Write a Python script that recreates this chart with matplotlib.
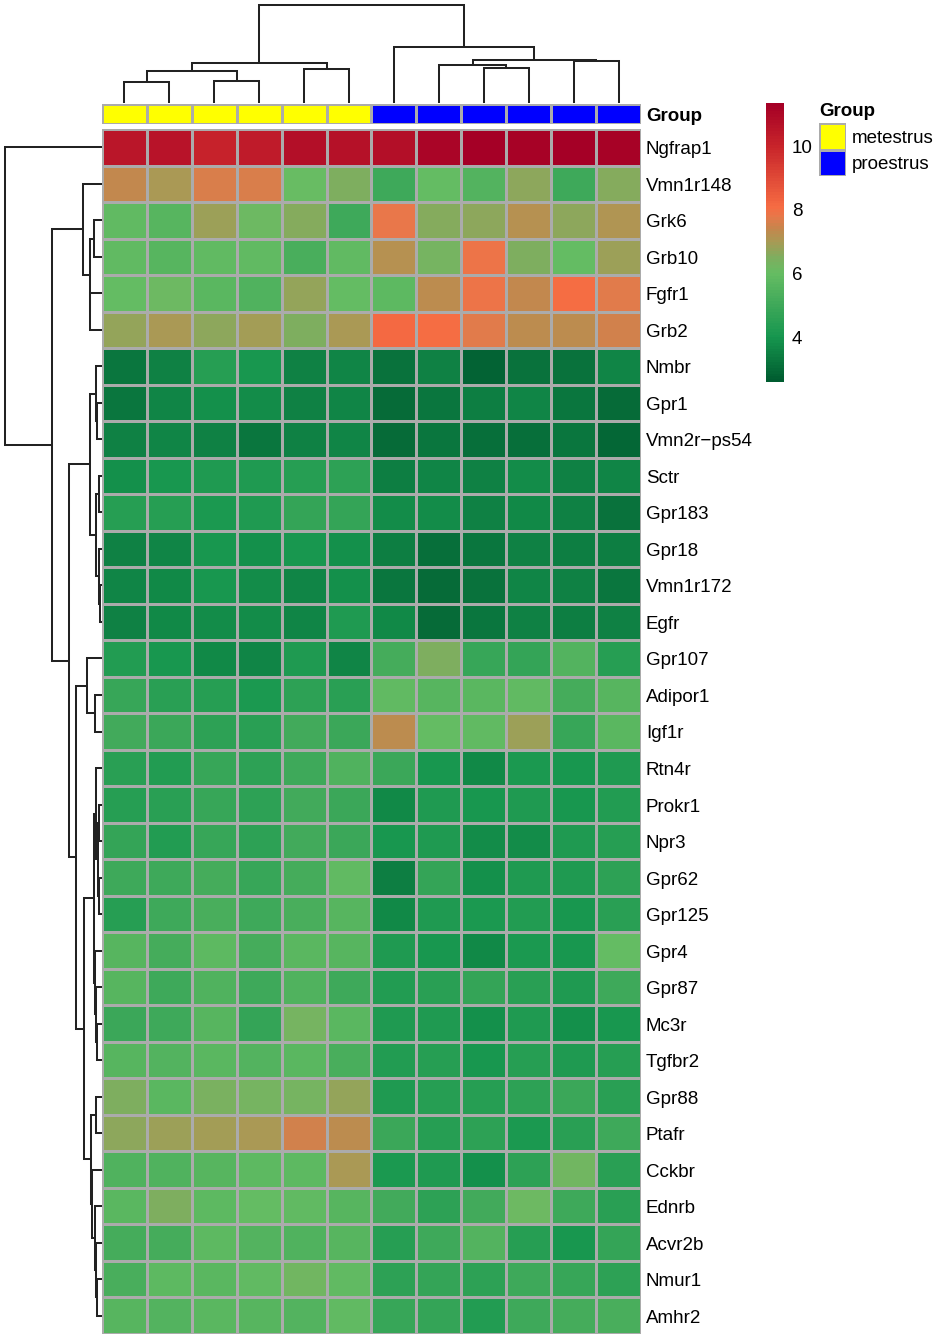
import matplotlib
matplotlib.use('Agg')
import matplotlib.pyplot as plt
import numpy as np
from matplotlib.colors import LinearSegmentedColormap, ListedColormap

plt.rcParams['font.family'] = ['Liberation Sans', 'DejaVu Sans']

genes = ['Ngfrap1', 'Vmn1r148', 'Grk6', 'Grb10', 'Fgfr1', 'Grb2', 'Nmbr', 'Gpr1', 'Vmn2r\u2212ps54',
         'Sctr', 'Gpr183', 'Gpr18', 'Vmn1r172', 'Egfr', 'Gpr107', 'Adipor1', 'Igf1r', 'Rtn4r', 'Prokr1',
         'Npr3', 'Gpr62', 'Gpr125', 'Gpr4', 'Gpr87', 'Mc3r', 'Tgfbr2', 'Gpr88', 'Ptafr', 'Cckbr', 'Ednrb',
         'Acvr2b', 'Nmur1', 'Amhr2']

values = [
    [10.5, 10.6, 10.1, 10.3, 10.8, 10.7, 10.8, 11.1, 11.3, 11.2, 11.3, 11.2],
    [7.4, 7.05, 7.65, 7.65, 6.05, 6.5, 5.0, 6.0, 5.5, 6.65, 5.0, 6.55],
    [5.9, 5.6, 6.85, 6.1, 6.55, 5.0, 7.8, 6.55, 6.65, 7.15, 6.7, 7.1],
    [5.9, 5.6, 5.9, 5.9, 5.3, 5.9, 7.2, 6.3, 7.85, 6.5, 6.0, 6.85],
    [6.0, 6.1, 5.7, 5.4, 6.8, 5.95, 5.8, 7.3, 7.85, 7.4, 8.1, 7.7],
    [6.8, 7.0, 6.65, 6.95, 6.45, 7.0, 8.15, 8.1, 7.75, 7.3, 7.3, 7.5],
    [3.3, 3.5, 4.4, 4.0, 3.5, 3.6, 3.2, 3.5, 2.8, 3.2, 3.2, 3.6],
    [3.3, 3.6, 3.9, 3.8, 3.5, 3.6, 3.0, 3.3, 3.4, 3.6, 3.3, 3.0],
    [3.5, 3.6, 3.5, 3.3, 3.5, 3.6, 3.0, 3.3, 3.1, 3.1, 3.3, 2.9],
    [3.9, 4.0, 4.2, 4.2, 4.4, 4.6, 3.4, 3.6, 3.5, 3.8, 3.5, 3.6],
    [4.4, 4.4, 4.1, 4.2, 4.7, 4.7, 3.8, 3.8, 3.5, 3.7, 3.5, 3.2],
    [3.5, 3.6, 4.0, 3.9, 4.0, 3.9, 3.4, 3.1, 3.3, 3.5, 3.4, 3.4],
    [3.6, 3.7, 4.0, 3.8, 3.6, 3.9, 3.3, 3.0, 3.2, 3.6, 3.5, 3.3],
    [3.5, 3.7, 3.8, 3.8, 3.6, 4.2, 3.7, 3.0, 3.3, 3.5, 3.4, 3.5],
    [4.3, 4.0, 3.7, 3.6, 4.2, 3.6, 5.2, 6.5, 4.8, 4.7, 5.5, 4.4],
    [4.8, 4.5, 4.4, 4.1, 4.6, 4.5, 5.9, 5.6, 5.7, 5.9, 5.2, 5.6],
    [5.1, 4.9, 4.6, 4.5, 5.1, 4.9, 7.25, 6.0, 5.9, 6.85, 4.8, 5.7],
    [4.5, 4.3, 4.8, 4.6, 5.0, 5.4, 4.9, 4.0, 3.7, 4.1, 4.0, 4.2],
    [4.4, 4.5, 4.8, 4.6, 5.1, 4.9, 3.7, 4.2, 4.0, 4.2, 4.0, 4.3],
    [4.7, 4.3, 4.8, 4.6, 5.1, 4.9, 4.0, 4.2, 3.8, 3.8, 4.2, 4.4],
    [5.0, 5.0, 5.2, 4.8, 5.2, 5.9, 3.4, 4.7, 3.9, 4.2, 4.2, 4.6],
    [4.4, 5.0, 5.3, 5.0, 5.3, 5.6, 3.7, 4.2, 4.1, 4.3, 4.0, 4.5],
    [5.6, 5.2, 5.8, 5.2, 5.7, 5.6, 4.2, 4.0, 3.7, 4.1, 4.0, 6.0],
    [5.6, 5.0, 5.4, 5.0, 5.4, 5.0, 4.3, 4.5, 4.7, 4.5, 4.2, 5.0],
    [4.9, 5.0, 5.6, 4.7, 6.3, 5.7, 4.2, 4.2, 3.9, 4.2, 3.9, 4.0],
    [5.6, 5.5, 5.7, 5.5, 5.7, 5.3, 4.3, 4.4, 4.0, 4.4, 4.2, 4.4],
    [6.5, 5.7, 6.4, 6.3, 6.3, 6.75, 4.2, 4.4, 4.4, 4.6, 4.9, 4.5],
    [6.65, 6.85, 6.95, 7.0, 7.5, 7.25, 4.9, 4.4, 4.6, 4.1, 4.5, 5.0],
    [5.4, 5.4, 5.6, 5.8, 5.8, 7.05, 4.1, 4.2, 3.9, 4.6, 6.2, 4.5],
    [5.7, 6.5, 5.8, 6.0, 5.9, 5.6, 5.1, 4.6, 5.1, 6.1, 5.0, 4.5],
    [5.2, 5.2, 5.8, 5.5, 5.4, 5.6, 4.4, 5.0, 5.5, 4.4, 4.0, 4.7],
    [5.3, 5.8, 5.7, 5.9, 6.2, 5.9, 4.6, 4.7, 4.6, 5.0, 4.8, 4.6],
    [5.6, 5.5, 5.7, 5.6, 5.5, 5.9, 4.8, 4.7, 4.3, 5.0, 5.2, 5.3],
]

groups = [0, 0, 0, 0, 0, 0, 1, 1, 1, 1, 1, 1]
group_names = ['metestrus', 'proestrus']
group_colors = ['#FFFF00', '#0000FF']
bar_ticks = [4, 6, 8, 10]

# trees: (left, right, height), leaves are positions in the drawn order
col_tree = (((((0, 1, 21), (2, 3, 22), 32), (4, 5, 34), 40)),
            (6, ((7, (8, 9, 35), 38), (10, 11, 42), 43.5), 56), 98)
row_tree = (0,
            ((1, ((2, 3, 8), (4, 5, 12), 12), 19),
             (((6, (7, 8, 4.7), 5.7), ((9, 10, 3), (11, (12, 13, 2), 3), 6.3), 11.5),
              ((14, (15, 16, 7), 15),
               (((17, ((18, 19, 2.7), (20, 21, 3), 4.3), 6.3), (22, (23, (24, 25, 4.7), 6), 7), 8.3),
                ((26, 27, 6.3), (28, (29, (30, (31, 32, 4.7), 6), 7), 10.3), 11.3), 18), 26), 33.5), 50), 97)

val_min, val_max = 2.6, 11.35
color_stops = [(2.6, '#005c30'), (4.0, '#17974f'), (5.0, '#3fa95a'), (6.0, '#66bd63'), (6.5, '#7fae5f'),
               (7.0, '#a99a55'), (7.4, '#c4874d'), (7.8, '#e8784a'), (8.1, '#f66c43'), (10.0, '#c9252b'),
               (11.35, '#a50026')]
cmap = LinearSegmentedColormap.from_list(
    'expr', [((v - val_min) / (val_max - val_min), c) for v, c in color_stops], N=100)

W, H = 937, 1339
fig = plt.figure(figsize=(W / 100, H / 100), dpi=100)


def px_axes(x0, y0, x1, y1):
    ax = fig.add_axes([x0 / W, 1 - y1 / H, (x1 - x0) / W, (y1 - y0) / H])
    ax.set_axis_off()
    return ax


def label(ax, x, y, s, dx, dy, **kw):
    # offsets in image pixels, down is positive
    ax.annotate(s, (x, y), xytext=(dx * 0.72, -dy * 0.72), textcoords='offset points', va='center', ha='left',
                fontsize=13.5, color='black', annotation_clip=False, **kw)


def draw_tree(ax, node, horizontal):
    # returns (centre, height) of the node
    if not isinstance(node, tuple):
        return node + 0.5, 0
    c1, h1 = draw_tree(ax, node[0], horizontal)
    c2, h2 = draw_tree(ax, node[1], horizontal)
    h = node[2]
    xs, ys = [c1, c1, c2, c2], [h1, h, h, h2]
    if horizontal:
        xs, ys = ys, xs
    ax.plot(xs, ys, color='#222222', lw=1.45, solid_joinstyle='miter', solid_capstyle='butt', clip_on=False)
    return (c1 + c2) / 2, h


grid = '#ABABAB'
left, right, top, bottom = 102, 641, 129, 1334
n_rows, n_cols = len(genes), len(groups)

ax = px_axes(left, top, right, bottom)
ax.pcolormesh(np.array(values), cmap=cmap, vmin=val_min, vmax=val_max, edgecolors=grid, linewidth=0.75)
ax.set_xlim(0, n_cols)
ax.set_ylim(n_rows, 0)
for i, g in enumerate(genes):
    label(ax, n_cols, i + 0.5, g, 5, 2.5)

ax_ann = px_axes(left, 104, right, 124)
ax_ann.pcolormesh(np.array([groups]), cmap=ListedColormap(group_colors), vmin=0, vmax=1, edgecolors=grid, linewidth=0.75)
ax_ann.set_xlim(0, n_cols)
ax_ann.set_ylim(1, 0)
label(ax_ann, n_cols, 0.5, 'Group', 5, 2.5, fontweight='bold')

ax_top = px_axes(left, 3, right, 103)
ax_top.set_xlim(0, n_cols)
ax_top.set_ylim(0, 100)
draw_tree(ax_top, col_tree, False)

ax_left = px_axes(0, top, left, bottom)
ax_left.set_xlim(102, 0)
ax_left.set_ylim(n_rows, 0)
draw_tree(ax_left, row_tree, True)

# colour bar
ax_bar = px_axes(766, 103, 784, 382)
ax_bar.imshow(np.linspace(val_max, val_min, 100).reshape(-1, 1), cmap=cmap, vmin=val_min, vmax=val_max,
              aspect='auto', extent=[0, 1, val_min, val_max], interpolation='nearest')
for t in bar_ticks:
    label(ax_bar, 1.0, t, str(t), 8, 2)

# group legend
ax_leg = px_axes(819, 123, 846, 176)
ax_leg.pcolormesh(np.array([[0], [1]]), cmap=ListedColormap(group_colors), vmin=0, vmax=1, edgecolors=grid, linewidth=0.75)
ax_leg.set_xlim(0, 1)
ax_leg.set_ylim(2, 0)
label(ax_leg, 0, -0.5, 'Group', 0, 2, fontweight='bold')
for i, g in enumerate(group_names):
    label(ax_leg, 1, i + 0.5, g, 6, 2)

fig.savefig('out.png', dpi=100)
